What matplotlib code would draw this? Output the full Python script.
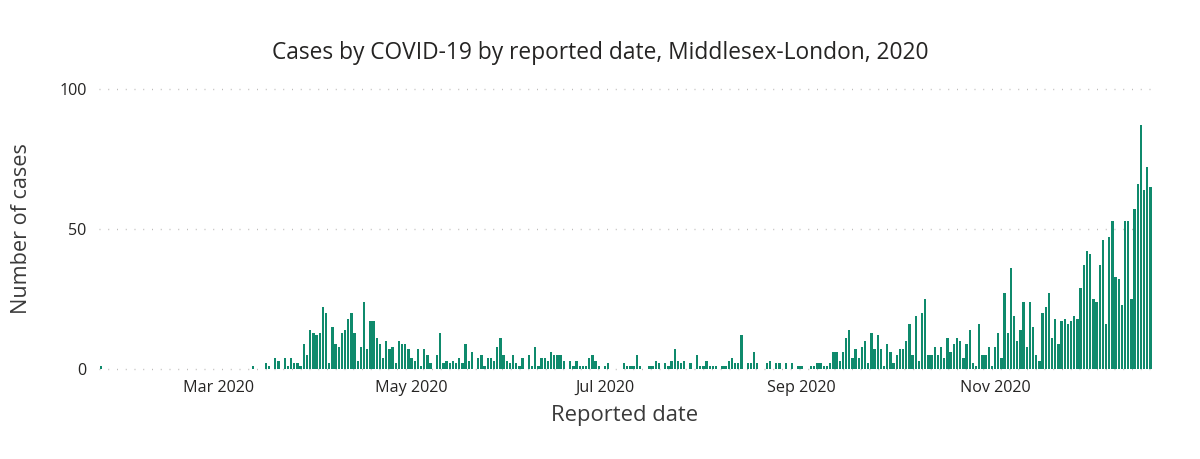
import matplotlib
matplotlib.use("Agg")
import matplotlib.pyplot as plt
import matplotlib.dates as mdates
import pandas as pd

# Daily reported cases, Middlesex-London, 2020 (first value = 24 Jan 2020)
start_date = "2020-01-24"
jan = [1, 0, 0, 0, 0, 0, 0, 0]
feb = [0, 0, 0, 0, 0, 0, 0, 0, 0, 0, 0, 0, 0, 0, 0, 0, 0, 0, 0, 0,
       0, 0, 0, 0, 0, 0, 0, 0, 0]
mar = [0, 0, 0, 0, 0, 0, 0, 0, 0, 0, 0, 1, 0, 0, 0, 2, 1, 0, 4, 3,
       0, 4, 1, 4, 2, 2, 1, 9, 5, 14, 13]
apr = [12, 13, 22, 20, 2, 15, 9, 8, 13, 14, 18, 20, 13, 3, 8, 24, 7, 17, 17, 11,
       9, 4, 10, 7, 8, 2, 10, 9, 9, 7]
may = [4, 3, 7, 1, 7, 5, 2, 0, 5, 13, 2, 3, 2, 3, 2, 4, 2, 9, 3, 6,
       0, 4, 5, 1, 4, 4, 3, 8, 11, 5, 3]
jun = [2, 5, 2, 1, 4, 0, 5, 1, 8, 1, 4, 4, 3, 6, 5, 5, 5, 3, 0, 3,
       1, 3, 1, 1, 1, 4, 5, 3, 1, 0]
jul = [1, 2, 0, 0, 0, 0, 2, 1, 1, 1, 5, 1, 0, 0, 1, 1, 3, 2, 0, 2,
       1, 3, 7, 3, 2, 3, 0, 2, 0, 5, 1]
aug = [1, 3, 1, 1, 1, 0, 1, 1, 3, 4, 2, 2, 12, 0, 2, 2, 6, 2, 0, 0,
       2, 3, 0, 2, 2, 0, 2, 0, 2, 0, 1]
sep = [1, 0, 0, 1, 1, 2, 2, 1, 1, 2, 6, 6, 3, 6, 11, 14, 4, 7, 4, 8,
       10, 2, 13, 7, 12, 7, 1, 9, 6, 2]
oct_ = [5, 7, 7, 10, 16, 5, 19, 3, 20, 25, 5, 5, 8, 5, 8, 4, 11, 6, 9, 11,
        10, 4, 9, 14, 2, 1, 16, 5, 5, 8, 1]
nov = [8, 13, 4, 27, 13, 36, 19, 10, 14, 24, 8, 24, 15, 5, 3, 20, 22, 27, 11, 18,
       9, 17, 18, 16, 17, 19, 18, 29, 37, 42]
dec = [41, 25, 24, 37, 46, 16, 47, 53, 33, 32, 23, 53, 53, 25, 57, 66, 87, 64, 72, 65]

cases = jan + feb + mar + apr + may + jun + jul + aug + sep + oct_ + nov + dec
dates = pd.date_range(start_date, periods=len(cases), freq="D")

tick_dates = ["2020-03-01", "2020-05-01", "2020-07-01", "2020-09-01", "2020-11-01"]
y_ticks = [0, 50, 100]

title = "Cases by COVID-19 by reported date, Middlesex-London, 2020"
x_title = "Reported date"
y_title = "Number of cases"

bar_color = "#0F8A6C"
font = ["Open Sans", "DejaVu Sans"]
plt.rcParams["font.family"] = font

fig = plt.figure(figsize=(12, 4.59), dpi=100)
ax = fig.add_axes([99 / 1200, 1 - 369 / 459, (1152 - 99) / 1200, (369 - 89) / 459])

xd = mdates.date2num(dates)
ax.bar(xd, cases, width=0.74, color=bar_color, linewidth=0, zorder=3)

x0 = mdates.date2num(pd.Timestamp(start_date)) - 0.6
x1 = xd[-1] + 0.5
ax.set_xlim(x0, x1)
ax.set_ylim(0, 100)

ax.set_yticks(y_ticks)
ax.set_yticklabels([str(v) for v in y_ticks])
ax.set_xticks(mdates.date2num(pd.to_datetime(tick_dates)))
ax.xaxis.set_major_formatter(mdates.DateFormatter("%b %Y"))

for s in ax.spines.values():
    s.set_visible(False)
ax.tick_params(axis="both", length=0, labelsize=11.6, colors="#252423")
ax.tick_params(axis="x", pad=8)
ax.tick_params(axis="y", pad=9)

for v in y_ticks:
    ax.axhline(v, color="#bdbbb9", linewidth=1.0, linestyle=(0, (0.7, 5.6)), zorder=1,
               clip_on=False)

fig.text(0.5, 1 - 53 / 459, title, ha="center", va="center", fontsize=16.4,
         color="#252423")
fig.text(625 / 1200, 1 - 415 / 459, x_title, ha="center", va="center", fontsize=15.8,
         color="#3a3a3a")
fig.text(22 / 1200, 1 - 229 / 459, y_title, ha="center", va="center", fontsize=15.6,
         color="#3a3a3a", rotation=90)

fig.savefig("out.png", dpi=100, facecolor="white")
